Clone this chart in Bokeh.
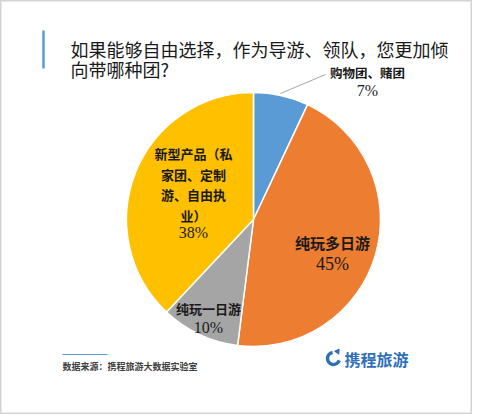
import numpy as np
from bokeh.plotting import figure
from bokeh.models import Range1d
from bokeh.core.properties import value
from bokeh.embed import file_html
from bokeh.resources import INLINE

# ---- data ----
categories = ["购物团、赌团", "纯玩多日游", "纯玩一日游", "新型产品（私家团、定制游、自由执业）"]
shares = [7, 45, 10, 38]
pct_labels = ["7%", "45%", "10%", "38%"]
colors = ["#5B9BD5", "#ED7D31", "#A5A5A5", "#FFC000"]
# wrapped label lines as shown in the chart
label_lines = [["购物团、赌团"], ["纯玩多日游"], ["纯玩一日游"], ["新型产品（私", "家团、定制", "游、自由执", "业）"]]
title_lines = ["如果能够自由选择，作为导游、领队，您更加倾", "向带哪种团?"]
source_text = "数据来源：携程旅游大数据实验室"
logo_text = "携程旅游"

W, H = 472, 414
FONT = value("Noto Sans CJK SC")
SERIF = value("Liberation Serif")

def Y(yref):
    return 416 - yref

p = figure(width=W, height=H, output_backend="svg", toolbar_location=None,
           x_range=Range1d(0, W), y_range=Range1d(Y(H), Y(0)),
           min_border=0)
p.axis.visible = False
p.grid.visible = False
p.outline_line_color = "#d4d4d4"
p.outline_line_width = 2
p.background_fill_color = "white"
p.border_fill_color = "white"

# ---- pie ----
cx, cy, r = 253, Y(219), 127
fr = np.array(shares, dtype=float) / sum(shares)
cum = np.concatenate([[0], np.cumsum(fr)])
start = np.pi / 2 - cum[:-1] * 2 * np.pi
end = np.pi / 2 - cum[1:] * 2 * np.pi
p.wedge(x=cx, y=cy, radius=r, start_angle=list(start), end_angle=list(end),
        direction="clock", fill_color=colors, line_color="white", line_width=1.5)

# ---- data labels ----
# (x, y of first line, line spacing, font size, pct y, pct font size)
lab_pos = [
    (367, 72, 18, "12.5px", 90, "16px"),
    (332, 242, 20, "15px", 263, "18px"),
    (208, 308, 20, "13px", 327, "16px"),
    (193, 153, 20.5, "13px", 232, "16px"),
]
for i, (lx, ly, dy, fs, py, pfs) in enumerate(lab_pos):
    for j, line in enumerate(label_lines[i]):
        p.text(x=[lx], y=[Y(ly + j * dy)], text=[line], text_font=FONT,
               text_font_size=fs, text_font_style="bold", text_color="#1a1a1a",
               text_align="center", text_baseline="middle")
    p.text(x=[lx], y=[Y(py)], text=[pct_labels[i]], text_font=SERIF,
           text_font_size=pfs, text_color="#1a1a1a",
           text_align="center", text_baseline="middle")
# leader line for the small slice
p.line(x=[280, 325], y=[Y(93), Y(74)], line_color="#a6a6a6", line_width=1)

# ---- title ----
p.line(x=[43, 43], y=[Y(30), Y(68)], line_color="#5B9BD5", line_width=2.5)
for j, t in enumerate(title_lines):
    p.text(x=[70], y=[Y(48 + j * 20.5)], text=[t], text_font=FONT,
           text_font_size="18px", text_color="#1a1a1a",
           text_align="left", text_baseline="middle")

# ---- footer ----
p.line(x=[62, 107], y=[Y(354), Y(354)], line_color="#5B9BD5", line_width=1)
p.text(x=[62], y=[Y(366)], text=[source_text], text_font=FONT,
       text_font_size="9px", text_color="#404040", text_font_style="bold",
       text_align="left", text_baseline="middle")

# logo
p.arc(x=[333], y=[Y(358)], radius=6, start_angle=np.pi * 0.55, end_angle=np.pi * 1.9,
      direction="anticlock", line_color="#2F6FB7", line_width=3.5)
p.scatter(x=[337], y=[Y(351)], size=5, marker="triangle", fill_color="#2F6FB7",
          line_color="#2F6FB7", angle=-0.6)
p.text(x=[344], y=[Y(358)], text=[logo_text], text_font=FONT,
       text_font_size="16px", text_font_style="bold", text_color="#2F6FB7",
       text_align="left", text_baseline="middle")

open("out.html", "w").write(file_html(p, INLINE))
